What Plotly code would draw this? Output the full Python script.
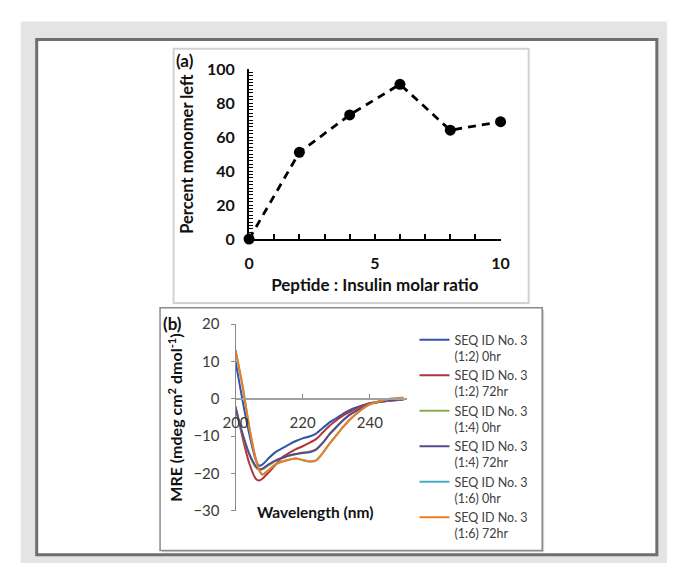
import plotly.graph_objects as go

W, H = 676, 572

# ---------- Panel (a) data ----------
ratio = [0, 2, 4, 6, 8, 10]
monomer_left = [0, 51, 73, 91, 64, 69]

# ---------- Panel (b) data ----------
wavelength = [200, 202, 204, 206, 207, 208, 210, 212, 214, 216, 218, 220, 222,
              224, 226, 228, 230, 232, 234, 236, 238, 240, 243, 246, 250]
mre_12_0 = [10, 0, -9, -16.3, -17.9, -17.6, -15.8, -14.2, -13.2, -12.2, -11.3, -10.6, -10.1,
            -9.3, -7.8, -6.3, -5.2, -4.0, -3.0, -2.3, -1.7, -1.2, -0.8, -0.5, -0.2]
mre_12_72 = [-2, -10, -17, -21.4, -21.9, -21.4, -19.6, -17.6, -15.6, -14.5, -13.5, -12.7, -11.8,
             -10.8, -9.0, -7.2, -5.8, -4.5, -3.5, -2.6, -1.8, -1.2, -0.8, -0.5, -0.2]
mre_14_0 = [-2.5, -9.3, -14.8, -18.3, -19.0, -18.9, -17.7, -16.6, -15.9, -15.2, -14.8, -14.4, -14.2,
            -13.5, -11.7, -9.4, -7.5, -5.7, -4.2, -3.1, -2.2, -1.4, -0.8, -0.4, -0.1]
mre_14_72 = [-2.5, -9, -14.5, -18, -18.8, -18.7, -17.5, -16.5, -15.8, -15.2, -14.8, -14.5, -14.3,
             -13.6, -11.8, -9.5, -7.6, -5.8, -4.3, -3.2, -2.2, -1.4, -0.8, -0.4, -0.1]
mre_16_0 = [13, 3.8, -7.2, -16, -19, -20.3, -19, -17.5, -16.8, -16.3, -16, -16.4, -16.8,
            -16.5, -14.5, -12, -9.8, -7.6, -5.6, -4, -2.6, -1.5, -0.6, 0, 0.3]
mre_16_72 = [13.2, 4, -7, -16, -19, -20.3, -19, -17.5, -16.8, -16.3, -16, -16.4, -16.8,
             -16.5, -14.5, -12, -9.8, -7.6, -5.6, -4, -2.6, -1.5, -0.6, 0, 0.3]

series_names = ["SEQ ID No. 3<br>(1:2) 0hr", "SEQ ID No. 3<br>(1:2) 72hr",
                "SEQ ID No. 3<br>(1:4) 0hr", "SEQ ID No. 3<br>(1:4) 72hr",
                "SEQ ID No. 3<br>(1:6) 0hr", "SEQ ID No. 3<br>(1:6) 72hr"]
series_values = [mre_12_0, mre_12_72, mre_14_0, mre_14_72, mre_16_0, mre_16_72]
series_colors = ["#2f54a8", "#b0343a", "#8aac48", "#5a4a8c", "#4bacc6", "#ee7d22"]

# tick marks every unit, labelled only at the major values
x_tickvals_a = list(range(0, 11))
x_ticktext_a = ["0", "", "", "", "", "5", "", "", "", "", "10"]
y_tickvals_a = list(range(0, 101, 2))
y_ticktext_a = [str(v) if v % 20 == 0 else "" for v in y_tickvals_a]
y_ticks_b = [20, 10, 0, -10, -20, -30]
x_ticks_b = [200, 220, 240]

FONT = "Lato"


def px_x(p):
    return p / W


def px_y(p):
    return 1 - p / H


fig = go.Figure()

fig.add_trace(go.Scatter(
    x=ratio, y=monomer_left, mode="lines+markers",
    line=dict(color="black", width=2.8, dash="8px,6px"),
    marker=dict(color="black", size=11),
    cliponaxis=False, showlegend=False, xaxis="x", yaxis="y"))

for name, vals, col in zip(series_names, series_values, series_colors):
    fig.add_trace(go.Scatter(
        x=wavelength, y=vals, mode="lines", name=name,
        line=dict(color=col, width=2, shape="spline", smoothing=0.6),
        xaxis="x2", yaxis="y2"))

xa_dom = [px_x(244), px_x(504)]
ya_dom = [px_y(237), px_y(61)]
xb_dom = [px_x(230), px_x(407)]
yb_dom = [px_y(518), px_y(325)]
yb_range = [-30, 20]
zero_pos = yb_dom[0] + (0 - yb_range[0]) / (yb_range[1] - yb_range[0]) * (yb_dom[1] - yb_dom[0])

bold_tick = dict(family=FONT, size=16, color="#111", weight="bold")
tick_b = dict(family=FONT, size=15, color="#3a3a3a")

shapes = [
    dict(type="rect", xref="paper", yref="paper", x0=px_x(8), x1=1, y0=0, y1=px_y(12),
         fillcolor="#e4e4e4", line=dict(width=0), layer="below"),
    dict(type="rect", xref="paper", yref="paper", x0=px_x(24.5), x1=px_x(665.5),
         y0=px_y(563.5), y1=px_y(30.5), fillcolor="white",
         line=dict(color="#6e6e6e", width=3), layer="below"),
    dict(type="rect", xref="paper", yref="paper", x0=px_x(166), x1=px_x(533),
         y0=px_y(303), y1=px_y(40), fillcolor="white",
         line=dict(color="#d2d2d2", width=2), layer="below"),
    dict(type="rect", xref="paper", yref="paper", x0=px_x(154), x1=px_x(549),
         y0=px_y(561), y1=px_y(310), fillcolor="#d0d0d0",
         line=dict(width=0), layer="below"),
    dict(type="rect", xref="paper", yref="paper", x0=px_x(152), x1=px_x(547),
         y0=px_y(559), y1=px_y(308), fillcolor="white",
         line=dict(color="#8a8a8a", width=1.5), layer="below"),
]

annotations = [
    dict(text="(a)", xref="paper", yref="paper", x=px_x(178), y=px_y(52),
         xanchor="center", yanchor="middle", showarrow=False,
         font=dict(family=FONT, size=17, color="#111", weight="bold")),
    dict(text="(b)", xref="paper", yref="paper", x=px_x(165), y=px_y(324),
         xanchor="center", yanchor="middle", showarrow=False,
         font=dict(family=FONT, size=17, color="#111", weight="bold")),
    dict(text="Wavelength (nm)", xref="paper", yref="paper", x=px_x(312), y=px_y(519),
         xanchor="center", yanchor="middle", showarrow=False,
         font=dict(family=FONT, size=15.5, color="#111", weight="bold")),
]

fig.update_layout(
    width=W, height=H, autosize=False,
    margin=dict(l=0, r=0, t=0, b=0, pad=0),
    paper_bgcolor="white", plot_bgcolor="rgba(0,0,0,0)",
    shapes=shapes, annotations=annotations,
    xaxis=dict(domain=xa_dom, anchor="y", range=[0, 10],
               tickmode="array", tickvals=x_tickvals_a, ticktext=x_ticktext_a,
               ticks="inside", ticklen=5, tickwidth=1.5, tickcolor="black",
               showline=True, linewidth=2, linecolor="black", showgrid=False, zeroline=False,
               tickfont=bold_tick, ticklabelstandoff=9,
               title=dict(text="Peptide : Insulin molar ratio",
                          font=dict(family=FONT, size=17, color="#111", weight="bold"),
                          standoff=8)),
    yaxis=dict(domain=ya_dom, anchor="x", range=[0, 100],
               tickmode="array", tickvals=y_tickvals_a, ticktext=y_ticktext_a,
               ticks="inside", ticklen=4, tickwidth=1, tickcolor="black",
               showline=True, linewidth=2, linecolor="black", showgrid=False, zeroline=False,
               tickfont=bold_tick, ticklabelstandoff=9,
               title=dict(text="Percent monomer left",
                          font=dict(family=FONT, size=16.5, color="#111", weight="bold"),
                          standoff=9)),
    xaxis2=dict(domain=xb_dom, anchor="free", position=zero_pos, range=[200, 251],
                tickvals=x_ticks_b, ticks="inside", ticklen=4, tickwidth=1, tickcolor="#8a8a8a",
                showline=True, linewidth=2, linecolor="#a0a0a0", showgrid=False, zeroline=False,
                tickfont=tick_b, ticklabelstandoff=10),
    yaxis2=dict(domain=yb_dom, anchor="x2", range=yb_range, tickvals=y_ticks_b,
                ticks="outside", ticklen=4, tickwidth=1, tickcolor="#8a8a8a",
                showline=True, linewidth=1, linecolor="#8a8a8a", showgrid=False, zeroline=False,
                tickfont=tick_b, ticklabelstandoff=8,
                title=dict(text="MRE (mdeg cm<sup>2</sup> dmol<sup>-1</sup>)",
                           font=dict(family=FONT, size=16, color="#111", weight="bold"),
                           standoff=6)),
    legend=dict(x=px_x(415), y=px_y(326), xanchor="left", yanchor="top",
                bgcolor="rgba(0,0,0,0)", valign="top", tracegroupgap=0,
                font=dict(family=FONT, size=12.5, color="#404040")),
)

fig.write_html("out.html")
